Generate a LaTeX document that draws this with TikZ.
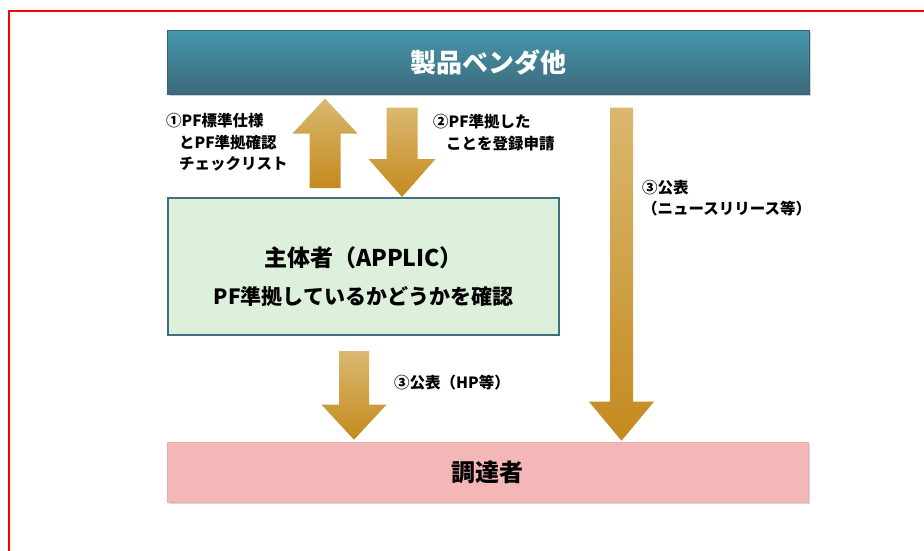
\documentclass[tikz,border=0pt]{standalone}
\usepackage{fontspec}
\setmainfont{Noto Sans CJK JP}
\usetikzlibrary{calc,shadows}

\definecolor{vendortop}{RGB}{70,150,172}
\definecolor{vendorbot}{RGB}{60,106,122}
\definecolor{vendorline}{RGB}{55,98,113}
\definecolor{applicfill}{RGB}{221,240,220}
\definecolor{applicline}{RGB}{62,112,128}
\definecolor{buyerfill}{RGB}{244,183,183}
\definecolor{buyerline}{RGB}{236,172,172}
\definecolor{goldtop}{RGB}{218,184,112}
\definecolor{goldbot}{RGB}{196,138,30}

\tikzset{
  box/.style={rectangle, inner sep=0pt},
  vendorbox/.style={box, top color=vendortop, bottom color=vendorbot, draw=vendorline, line width=1pt,
    minimum width=642pt, minimum height=64pt, text=white, font=\bfseries\fontsize{26}{30}\selectfont,
    drop shadow={shadow xshift=1.5pt, shadow yshift=-1.5pt, opacity=.35}},
  applicbox/.style={box, fill=applicfill, draw=applicline, line width=2pt, minimum width=391pt, minimum height=137pt},
  buyerbox/.style={box, fill=buyerfill, draw=buyerline, line width=.6pt, minimum width=641pt, minimum height=60pt,
    font=\bfseries\fontsize{24}{28}\selectfont,
    drop shadow={shadow xshift=1.5pt, shadow yshift=-1.5pt, opacity=.3}},
  note/.style={anchor=north west, align=left, inner sep=0pt, font=\bfseries\fontsize{15.5}{21.5}\selectfont},
  goldfill/.style={top color=goldtop, bottom color=goldbot, draw=none}
}

% x, from, to, direction (1 up, (-1) down), gap at from, gap at to, shaft half, head half, head length
\newcommand{\goldarrow}[9]{%
  \shade[goldfill] let \p1=(#2), \p2=(#3) in
    ({#1pt-#7pt},{\y1+#4*#5pt}) -- ({#1pt-#7pt},{\y2-#4*#6pt-#4*#9pt})
    -- ({#1pt-#8pt},{\y2-#4*#6pt-#4*#9pt}) -- ({#1pt},{\y2-#4*#6pt})
    -- ({#1pt+#8pt},{\y2-#4*#6pt-#4*#9pt}) -- ({#1pt+#7pt},{\y2-#4*#6pt-#4*#9pt})
    -- ({#1pt+#7pt},{\y1+#4*#5pt}) -- cycle;}

\begin{document}
\begin{tikzpicture}[x=1pt, y=-1pt]
  \useasboundingbox (0,0) rectangle (924,550);
  \draw[red, line width=1.7pt] (9,11) rectangle (960,580);

  \node[vendorbox] (vendor) at (488,62) {製品ベンダ他};
  \node[applicbox] (applic) at (363.5,266.5) {};
  \node[font=\bfseries\fontsize{23}{28}\selectfont] (applicname) at ([yshift=8.5pt]applic.center) {主体者（APPLIC）};
  \node[font=\bfseries\fontsize{21}{26}\selectfont] (applicnote) at ([yshift=-29.5pt]applic.center) {PF準拠しているかどうかを確認};
  \node[buyerbox] (buyer) at (487.5,472) {調達者};

  \goldarrow{325}{applic.north}{vendor.south}{1}{9}{4}{15.5}{32.5}{35}
  \goldarrow{402}{vendor.south}{applic.north}{(-1)}{13}{0}{15.5}{33.5}{38}
  \goldarrow{621.5}{vendor.south}{buyer.north}{(-1)}{13}{1}{11.5}{32.5}{39}
  \goldarrow{354}{applic.south}{buyer.north}{(-1)}{15}{2}{15}{32.5}{35}

  \node[note] (spec) at (166,113) {①PF標準仕様\\\hspace*{13pt}とPF準拠確認\\\hspace*{13pt}チェックリスト};
  \node[note] (apply) at (433,114) {②PF準拠した\\\hspace*{13pt}ことを登録申請};
  \node[note] (news) at (642,180) {③公表\\（ニュースリリース等）};
  \node[note, anchor=west] (hp) at (394,383) {③公表（HP等）};
\end{tikzpicture}
\end{document}
